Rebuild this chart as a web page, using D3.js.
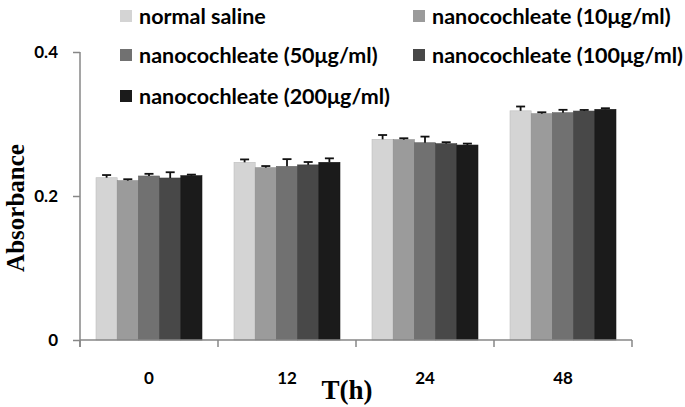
<!DOCTYPE html>
<html><head><meta charset="utf-8">
<script src="https://cdn.jsdelivr.net/npm/d3@7"></script>
<style>body{margin:0;background:#fff}svg{display:block}</style>
</head><body>
<svg id="c" width="685" height="407"></svg>
<script>
const categories = ["0","12","24","48"];
const seriesNames = ["normal saline","nanocochleate (10μg/ml)","nanocochleate (50μg/ml)","nanocochleate (100μg/ml)","nanocochleate (200μg/ml)"];
const salineValues = [0.2254, 0.2468, 0.2787, 0.3183];
const nano10Values = [0.2213, 0.2393, 0.2782, 0.3143];
const nano50Values = [0.2278, 0.2412, 0.2740, 0.3157];
const nano100Values = [0.2250, 0.2432, 0.2727, 0.3180];
const nano200Values = [0.2282, 0.2468, 0.2708, 0.3204];
const salineErr = [0.0037, 0.0040, 0.0060, 0.0060];
const nano10Err = [0.0020, 0.0023, 0.0020, 0.0020];
const nano50Err = [0.0030, 0.0100, 0.0085, 0.0040];
const nano100Err = [0.0080, 0.0040, 0.0020, 0.0015];
const nano200Err = [0.0015, 0.0055, 0.0020, 0.0015];
const yTicks = [0, 0.2, 0.4];
const colors = ["#d4d4d4","#9b9b9b","#717171","#484848","#1b1b1b"];

const values = [salineValues, nano10Values, nano50Values, nano100Values, nano200Values];
const errs = [salineErr, nano10Err, nano50Err, nano100Err, nano200Err];

const svg = d3.select("#c");
const axisColor = "#878787";
const x = d3.scaleBand().domain(categories).range([80, 632]).paddingInner(0.232).paddingOuter(0.116);
const x1 = d3.scaleBand().domain(d3.range(seriesNames.length)).range([0, x.bandwidth()]);
const y = d3.scaleLinear().domain([0, 0.4]).range([340, 52]);

// bars
const rows = [];
categories.forEach((c, ci) => values.forEach((v, si) => rows.push({c, si, v: v[ci], e: errs[si][ci]})));
const g = svg.append("g");
g.selectAll("rect").data(rows).join("rect")
  .attr("x", d => x(d.c) + x1(d.si))
  .attr("y", d => y(d.v))
  .attr("width", x1.bandwidth())
  .attr("height", d => y(0) - y(d.v))
  .attr("fill", d => colors[d.si])
  .attr("stroke", d => d3.color(colors[d.si]).darker(0.3))
  .attr("stroke-width", 0.6);
// error bars (upper)
const eb = svg.append("g").attr("stroke", "#111").attr("stroke-width", 1.8);
eb.selectAll("line.v").data(rows).join("line").attr("class","v")
  .attr("x1", d => x(d.c) + x1(d.si) + x1.bandwidth()/2)
  .attr("x2", d => x(d.c) + x1(d.si) + x1.bandwidth()/2)
  .attr("y1", d => y(d.v)).attr("y2", d => y(d.v + d.e));
eb.selectAll("line.h").data(rows).join("line").attr("class","h")
  .attr("x1", d => x(d.c) + x1(d.si) + x1.bandwidth()/2 - 4.5)
  .attr("x2", d => x(d.c) + x1(d.si) + x1.bandwidth()/2 + 4.5)
  .attr("y1", d => y(d.v + d.e)).attr("y2", d => y(d.v + d.e));

// y axis
const ya = svg.append("g").attr("transform", "translate(80,0)")
  .call(d3.axisLeft(y).tickValues(yTicks).tickSize(7).tickPadding(15).tickFormat(d => d === 0 ? "0" : d.toFixed(1)));
// x axis
const step = x.step();
const xa = svg.append("g").attr("transform", "translate(0,340)")
  .call(d3.axisBottom(x).tickSize(0).tickPadding(32));
xa.select(".domain").remove();
ya.select(".domain").remove();
svg.append("line").attr("x1", 80).attr("x2", 80).attr("y1", y(0.4)).attr("y2", 347).attr("stroke", axisColor).attr("stroke-width", 1.5);
svg.append("line").attr("x1", 80).attr("x2", 632).attr("y1", 340).attr("y2", 340).attr("stroke", axisColor).attr("stroke-width", 1.5);
const bounds = categories.map(c => x(c) - step * x.paddingInner() / 2).concat([x(categories[categories.length-1]) + x.bandwidth() + step * x.paddingInner() / 2]);
svg.selectAll("line.bt").data(bounds).join("line").attr("class","bt")
  .attr("x1", d => d).attr("x2", d => d).attr("y1", 340).attr("y2", 347)
  .attr("stroke", axisColor).attr("stroke-width", 1.5);
svg.selectAll(".tick line").attr("stroke", axisColor).attr("stroke-width", 1.5);
svg.selectAll(".tick text").attr("font-family", "Lato, 'Open Sans', sans-serif").attr("font-weight", 700).attr("font-size", 17).attr("fill", "#000");

// axis titles
svg.append("text").attr("transform", "translate(24,208) rotate(-90)").attr("text-anchor", "middle")
  .attr("font-family", "'Liberation Serif', 'Times New Roman', serif").attr("font-weight", 700).attr("font-size", 25).text("Absorbance");
svg.append("text").attr("x", 347).attr("y", 399).attr("text-anchor", "middle")
  .attr("font-family", "'Liberation Serif', 'Times New Roman', serif").attr("font-weight", 700).attr("font-size", 27).text("T(h)");

// legend
const legPos = [[120, 16], [413, 16], [120, 55], [413, 55], [120, 96]];
const leg = svg.append("g");
seriesNames.forEach((n, i) => {
  const [lx, ly] = legPos[i];
  leg.append("rect").attr("x", lx).attr("y", ly - 6).attr("width", 12).attr("height", 12).attr("fill", colors[i]);
  leg.append("text").attr("x", lx + 19).attr("y", ly).attr("dy", "0.35em")
    .attr("font-family", "Lato, 'Open Sans', sans-serif").attr("font-weight", 700).attr("font-size", 21.5).text(n);
});
</script>
</body></html>
